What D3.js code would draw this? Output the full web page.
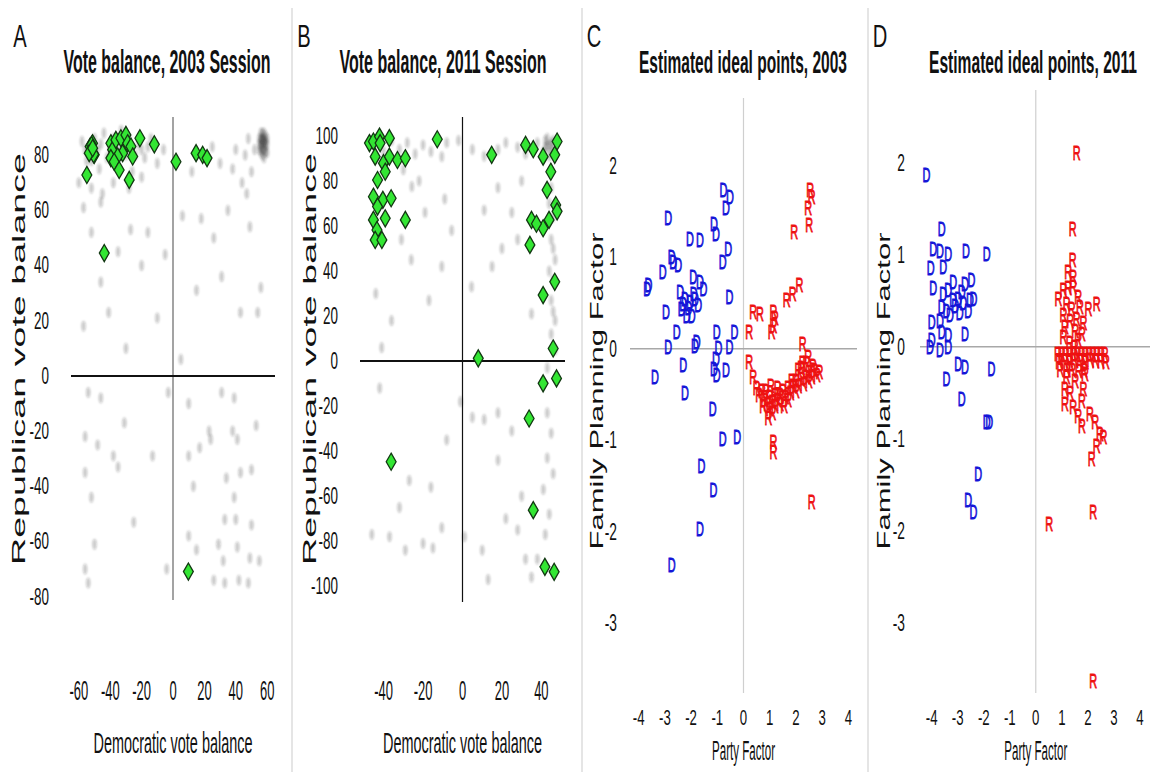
<!DOCTYPE html>
<html>
<head>
<meta charset="utf-8">
<script src="https://cdn.jsdelivr.net/npm/d3@7"></script>
<style>
  body { margin: 0; background: #fff; }
  svg { display: block; font-family: "Liberation Sans", Arial, sans-serif; }
</style>
</head>
<body>
<div class="vis-figure"></div>
<script>
// ---- data ----
// A: vote balance 2003, [democratic, republican]
const billsA = [[-54.9,72.8],[-52.8,83.1],[-51.3,84.3],[-50.2,80.1],[-51.9,83.7],[-50.6,80.3],[-53.4,80.7],[-51.2,82.5],
  [-39.6,84.3],[-38.5,81.9],[-39.6,78.9],[-36.4,85.5],[-33.2,86.1],[-30.0,87.3],[-28.9,84.3],[-26.8,83.1],[-32.1,80.7],
  [-35.3,79.5],[-37.5,77.6],[-34.3,74.6],[-25.7,79.5],[-27.9,71.0],[-21.1,86.1],[-11.9,83.9],
  [1.9,77.6],[14.7,80.7],[18.9,80.1],[21.7,78.9],[-43.8,44.5],[9.8,-70.9]];
const votesA = [[-58,85],[-55,78],[-50,86],[-47,75],[-44,88],[-40,82],[-36,76],[-33,89],[-30,80],[-26,74],[-22,84],[-18,79],
  [-14,86],[-10,77],[-6,82],[-60,70],[-52,68],[-45,66],[-38,70],[-28,68],[-20,72],[-48,82],[-42,79],[-24,80],[-16,83],
  [-56,82],[-52,78],[-46,84],[-38,86],[-34,82],[-28,86],[-20,82],
  [38,75],[40,82],[44,70],[46,80],[48,86],[50,74],[52,82],[30,77],[25,83],[12,74],
  [55,82],[56,85],[57,80],[58,86],[59,83],[56,88],[58,79],[60,84],[57,84],[59,87],[55,86],[58,82],[57,88],[60,81],[56,81],[58,84],
  [56,83],[57,86],[58,88],[59,81],[57,82],[58,85],[56,86],[59,85],[55,84],[60,86],
  [-57,18],[-46,34],[-41,23],[-52,52],[-57,61],[-46,63],[-27,53],[-16,52],[-10,21],[5,6],[6,58],[18,57],[26,50],[31,36],
  [43,23],[54,23],[56,32],[49,54],[15,31],[-35,45],[-20,40],[-30,10],[35,60],[47,66],[-5,44],
  [-54,-6],[-46,-8],[-3,-6],[31,-6],[39,-8],[10,-10],[-31,-17],[-56,-22],[-48,-25],[-13,-29],[-38,-29],[-35,-33],[-56,-35],
  [23,-20],[24,-23],[38,-20],[41,-23],[53,-18],[17,-26],[10,-29],[34,-37],[43,-35],[50,-34],[13,-40],[39,-44],[-52,-44],
  [-25,-53],[33,-52],[40,-52],[50,-54],[-50,-61],[10,-58],[29,-61],[32,-67],[41,-62],[49,-66],[55,-67],[-56,-70],[-54,-75],
  [-4,-70],[26,-74],[33,-75],[42,-74],[48,-75],[15,-63]];
const ticksAx = [-60, -40, -20, 0, 20, 40, 60];
const ticksAy = [-80, -60, -40, -20, 0, 20, 40, 60, 80];

// B: vote balance 2011
const billsB = [[-47.2,96.8],[-45.2,97.5],[-42.1,99.7],[-41.8,96.8],[-37.1,99.0],[-44.3,90.8],[-40.1,87.9],[-37.1,90.8],
  [-33.0,89.3],[-29.0,90.1],[-39.2,84.1],[-43.1,80.4],[-45.2,73.0],[-40.4,71.6],[-36.2,72.3],[-43.1,68.6],[-45.2,62.7],
  [-39.2,63.4],[-29.0,62.7],[-43.4,58.2],[-44.3,53.8],[-40.9,53.8],[-12.8,98.5],
  [14.8,91.6],[32.0,96.0],[35.9,94.1],[40.9,90.8],[46.8,91.6],[48.0,97.5],[44.8,84.1],[42.9,76.0],[47.3,69.3],[48.0,66.5],
  [35.0,62.7],[40.9,59.0],[43.9,62.7],[34.2,51.6],[37.5,61.0],
  [40.9,29.3],[46.8,35.2],[46.0,5.6],[8.0,1.2],[40.9,-9.9],[47.7,-7.7],[33.8,-25.5],[-36.2,-44.7],[35.9,-66.2],
  [41.8,-91.4],[46.5,-93.6]];
const votesB = [[-44,97],[-40,93],[-36,98],[-32,94],[-28,97],[-24,92],[-20,96],[-16,93],[-10.5,90.8],[-8,97],[-2,98],[5,94],
  [11,91],[18,94],[22,97],[28,95],[32,92],[38,97],[42,95],[45,97],[44,91],[46,94],[43,99],[47,92],[41,93],[44,96],[46,98],
  [43,95],[45,93],[42,98],[-30,85],[-22,80],
  [45,77],[46,64],[45,54],[47,45],[46,36],[45,27],[47,18],[45,12],[43,-3],[44,70],[46,50],[44,40],[46,22],[47,5],
  [-25.7,77.5],[-19,66],[-31,54],[-9,72],[-5.5,58],[11,67],[18,77],[25,66],[28,54],[4.6,33],[15,42],[35,21],[-44,30],
  [-36,18],[-41,6],[-26,45],[-17,27],[-10.5,42],[30,80],[20,50],
  [-42,-12],[-1,-18],[11,-26],[18,-23],[25,-31],[5,-25],[43,-23],[45,-32],[43,-43],[46,-50],[41,-57],[44,-68],[42,-77],
  [32,-88],[13,-97],[18,-44],[-8,-35],[-16,-56],[-27,-53],[-32,-65],[-10.5,-74],[-46,-77],[-37,-78],[-29,-84],[-20,-81],
  [-15,-83],[1,-78],[10,-84],[28,-75],[35,-96],[38,-88],[30,-60],[22,-70]];
const ticksBx = [-40, -20, 0, 20, 40];
const ticksBy = [-100, -80, -60, -40, -20, 0, 20, 40, 60, 80, 100];

// C: ideal points 2003, [party factor, family planning factor]
const demsC = [[-0.77,1.74],[-0.52,1.66],[-0.67,1.54],[-2.87,1.43],[-1.13,1.37],[-1.05,1.26],[-2.04,1.21],[-1.66,1.19],
  [-0.58,1.10],[-0.79,0.95],[-2.74,1.01],[-2.68,0.95],[-2.49,0.92],[-3.08,0.84],[-3.63,0.70],[-3.67,0.66],[-1.92,0.79],
  [-1.66,0.74],[-1.53,0.66],[-2.42,0.63],[-2.23,0.55],[-2.04,0.52],[-1.85,0.55],[-1.73,0.48],[-2.36,0.44],[-2.17,0.37],
  [-1.98,0.37],[-0.54,0.57],[-2.96,0.41],[-2.55,0.19],[-1.79,0.08],[-1.85,0.04],[-1.02,0.19],[-0.35,0.19],[-0.96,0.01],
  [-0.54,0.03],[-2.87,0.03],[-3.38,-0.30],[-2.30,-0.17],[-2.23,-0.48],[-1.13,-0.21],[-1.02,-0.28],[-0.67,-0.23],
  [-1.18,-0.65],[-0.79,-0.98],[-0.24,-0.96],[-1.60,-1.27],[-1.15,-1.54],[-1.66,-1.96],[-2.74,-2.36],[-2.10,0.45],
  [-1.90,0.60],[-2.30,0.50],[-1.05,-0.10]];
const repsC = [[2.54,1.74],[2.60,1.66],[2.47,1.54],[2.51,1.36],[1.93,1.28],[2.13,0.70],[1.88,0.61],[1.65,0.54],[0.37,0.41],
  [0.63,0.39],[1.14,0.41],[1.20,0.34],[1.14,0.26],[1.08,0.19],[0.22,0.19],[0.22,-0.14],[2.26,0.06],[0.37,-0.30],[2.47,-0.08],
  [1.14,-1.01],[1.14,-1.12],[2.60,-1.67],
  [0.5,-0.42],[0.6,-0.5],[0.7,-0.45],[0.8,-0.55],[0.9,-0.6],[1.0,-0.65],[1.0,-0.52],[1.1,-0.58],[1.2,-0.62],[1.2,-0.5],
  [1.3,-0.55],[1.4,-0.5],[1.4,-0.6],[1.5,-0.45],[1.6,-0.52],[1.7,-0.42],[1.8,-0.48],[1.9,-0.4],[2.0,-0.45],[2.0,-0.35],
  [2.1,-0.4],[2.2,-0.32],[2.3,-0.38],[2.4,-0.3],[2.5,-0.35],[2.5,-0.25],[2.6,-0.3],[2.7,-0.22],[2.8,-0.28],[2.9,-0.25],
  [1.1,-0.7],[0.95,-0.75],[1.05,-0.4],[1.3,-0.42],[1.7,-0.55],[2.2,-0.2],[2.4,-0.15],[2.26,-0.15],[2.1,-0.22],
  [0.75,-0.62],[0.85,-0.45],[1.55,-0.62],[1.85,-0.35],[2.65,-0.18]];

// D: ideal points 2011
const demsD = [[-4.20,1.87],[-3.62,1.29],[-3.94,1.07],[-3.68,1.05],[-3.37,1.02],[-2.68,1.05],[-1.89,1.02],[-4.04,0.86],
  [-3.56,0.87],[-3.94,0.64],[-3.17,0.71],[-2.72,0.69],[-2.47,0.73],[-3.56,0.58],[-3.37,0.62],[-3.17,0.51],[-2.98,0.53],
  [-2.79,0.48],[-2.53,0.51],[-2.40,0.53],[-3.62,0.44],[-3.43,0.40],[-2.92,0.37],[-2.60,0.40],[-4.00,0.28],[-3.68,0.29],
  [-3.62,0.17],[-3.37,0.13],[-2.72,0.15],[-4.00,0.08],[-3.68,-0.03],[-3.37,0.00],[-2.98,-0.18],[-2.72,-0.21],[-1.70,-0.23],
  [-3.43,-0.34],[-2.85,-0.56],[-1.89,-0.81],[-1.79,-0.81],[-2.21,-1.37],[-2.60,-1.66],[-2.40,-1.79],[-4.07,0.0],
  [-3.3,0.35],[-3.1,0.45],[-2.85,0.6]];
const repsD = [[1.42,1.29],[1.42,0.95],[1.25,0.82],[1.44,0.76],[1.06,0.62],[0.87,0.53],[1.25,0.64],[1.44,0.66],[1.63,0.55],
  [1.19,0.47],[1.38,0.42],[1.70,0.44],[2.02,0.42],[2.34,0.47],[1.06,0.35],[1.32,0.29],[1.57,0.31],[1.83,0.26],[1.12,0.22],
  [1.51,0.18],[1.77,0.15],[1.63,0.08],[1.06,0.11],
  [0.85,-0.07],[1.0,-0.07],[1.15,-0.07],[1.3,-0.07],[1.45,-0.07],[1.6,-0.07],[1.75,-0.07],[1.9,-0.07],[2.05,-0.07],
  [2.2,-0.07],[2.35,-0.07],[2.5,-0.07],[2.65,-0.07],[0.9,-0.16],[1.1,-0.15],[1.3,-0.16],[1.5,-0.14],[1.7,-0.15],
  [1.9,-0.16],[2.1,-0.14],[2.3,-0.15],[2.5,-0.15],[2.7,-0.16],[0.95,-0.25],[1.2,-0.25],[1.4,-0.24],[1.65,-0.26],[1.85,-0.25],
  [1.12,-0.45],[1.32,-0.50],[1.12,-0.61],[1.44,-0.65],[1.77,-0.58],[1.83,-0.45],[1.63,-0.74],[1.77,-0.85],[2.08,-0.72],
  [2.28,-0.81],[2.47,-0.94],[2.60,-0.97],[2.34,-1.07],[2.15,-1.21],[1.19,-0.32],[1.51,-0.36],[1.89,-0.29],[2.21,-1.79],
  [0.52,-1.92],[2.21,-3.62],[1.57,2.11],[1.3,0.05],[1.5,0.0]];
const ticksIdealX = [-4, -3, -2, -1, 0, 1, 2, 3, 4];
const ticksIdealY = [-3, -2, -1, 0, 1, 2];

// ---- drawing ----
const W = 1156, H = 772;
const svg = d3.select('.vis-figure').append('svg')
    .attr('width', W)
    .attr('height', H);

svg.append('defs').append('filter')
    .attr('id', 'smudge')
    .attr('x', '-50%').attr('y', '-50%').attr('width', '200%').attr('height', '200%')
    .append('feGaussianBlur')
    .attr('stdDeviation', 1.3);

// the source figure is squashed sideways, so text gets a horizontal scale
function squeezed(g, str, x, y, size, sx, anchor, weight) {
    return g.append('text')
        .attr('transform', 'translate(' + x + ',' + y + ') scale(' + sx + ',1)')
        .attr('text-anchor', anchor)
        .attr('font-size', size)
        .attr('font-weight', weight || 'normal')
        .attr('fill', '#111')
        .text(str);
}

function fitted(g, str, x, y, size, len, weight, rotate) {
    return g.append('text')
        .attr('transform', 'translate(' + x + ',' + y + ')' + (rotate ? ' rotate(-90)' : ''))
        .attr('text-anchor', 'middle')
        .attr('font-size', size)
        .attr('font-weight', weight || 'normal')
        .attr('textLength', len)
        .attr('lengthAdjust', 'spacingAndGlyphs')
        .attr('fill', '#111')
        .text(str);
}

// panel separators
[292, 582, 868].forEach(function (sx) {
    svg.append('line')
        .attr('x1', sx).attr('x2', sx)
        .attr('y1', 8).attr('y2', H)
        .attr('stroke', '#d4d4d4')
        .attr('stroke-width', 1.2);
});

const drawVote = (cfg) => {
    let g = svg.append('g');
    const x = d3.scaleLinear().domain(cfg.xDomain).range(cfg.xRange);
    const y = d3.scaleLinear().domain(cfg.yDomain).range(cfg.yRange);

    // density of all votes, drawn as soft grey smudges
    g.append('g')
        .attr('filter', 'url(#smudge)')
        .selectAll('ellipse')
        .data(cfg.votes)
        .join('ellipse')
        .attr('cx', d => x(d[0]))
        .attr('cy', d => y(d[1]))
        .attr('rx', 2.2)
        .attr('ry', 5.5)
        .attr('fill', '#222')
        .attr('opacity', 0.24);

    g.append('line')
        .attr('x1', x(0)).attr('x2', x(0))
        .attr('y1', cfg.yRange[1]).attr('y2', cfg.yRange[0])
        .attr('stroke', cfg.vColor)
        .attr('stroke-width', 1.2);
    g.append('line')
        .attr('x1', cfg.xRange[0]).attr('x2', cfg.xRange[1])
        .attr('y1', y(0)).attr('y2', y(0))
        .attr('stroke', '#111')
        .attr('stroke-width', 2);

    g.selectAll('.bill')
        .data(cfg.bills)
        .join('path')
        .attr('class', 'bill')
        .attr('transform', d => 'translate(' + x(d[0]) + ',' + y(d[1]) + ')')
        .attr('d', d3.symbol().type(d3.symbolDiamond).size(84))
        .attr('fill', '#33e633')
        .attr('stroke', '#123812')
        .attr('stroke-width', 1.3);

    cfg.xTicks.forEach(t => squeezed(g, t, x(t), 700, 27, 0.48, 'middle'));
    cfg.yTicks.forEach(t => squeezed(g, t, cfg.yTickX, y(t) + 8, 24, 0.56, 'end'));

    squeezed(g, cfg.letter, cfg.letterX, 47, 31, 0.65, 'middle');
    fitted(g, cfg.title, cfg.titleX, 73, 34, 207, 'bold');
    fitted(g, 'Democratic vote balance', x(0), 753, 30, 159);
    fitted(g, 'Republican vote balance', cfg.yLabelX, 359, 19, 412, 'normal', true);
};

const drawIdeal = (cfg) => {
    let g = svg.append('g');
    const x = d3.scaleLinear().domain(cfg.xDomain).range(cfg.xRange);
    const y = d3.scaleLinear().domain(cfg.yDomain).range(cfg.yRange);

    g.append('line')
        .attr('x1', x(0)).attr('x2', x(0))
        .attr('y1', cfg.yRange[1]).attr('y2', cfg.yRange[0])
        .attr('stroke', '#cfcfcf')
        .attr('stroke-width', 1.2);
    g.append('line')
        .attr('x1', cfg.xRange[0]).attr('x2', cfg.xRange[1])
        .attr('y1', y(0)).attr('y2', y(0))
        .attr('stroke', '#a8a8a8')
        .attr('stroke-width', 1.5);

    const party = [
        { pts: cfg.dems, ch: 'D', color: '#1414d8' },
        { pts: cfg.reps, ch: 'R', color: '#ee1111' }
    ];
    party.forEach(p => {
        g.append('g').selectAll('text')
            .data(p.pts)
            .join('text')
            .attr('transform', d => 'translate(' + x(d[0]) + ',' + y(d[1]) + ') scale(0.52,1)')
            .attr('text-anchor', 'middle')
            .attr('dy', '0.36em')
            .attr('font-size', 21)
            .attr('fill', p.color)
            .attr('stroke', p.color)
            .attr('stroke-width', 0.9)
            .text(p.ch);
    });

    ticksIdealX.forEach(t => squeezed(g, t, x(t), 725, 22, 0.6, 'middle'));
    ticksIdealY.forEach(t => squeezed(g, t, cfg.yTickX, y(t) + 8, 23, 0.6, 'end'));

    squeezed(g, cfg.letter, cfg.letterX, 47, 31, 0.65, 'middle');
    fitted(g, cfg.title, cfg.titleX, 73, 31, 208, 'bold');
    fitted(g, 'Party Factor', x(0), 760, 27, 63);
    fitted(g, 'Family Planning Factor', cfg.yLabelX, 391, 18, 317, 'normal', true);
};

drawVote({
    bills: billsA, votes: votesA, xTicks: ticksAx, yTicks: ticksAy,
    xDomain: [-65, 65], xRange: [71, 275], yDomain: [-81.2, 93.8], yRange: [600, 117],
    vColor: '#666', yTickX: 49, letter: 'A', letterX: 20,
    title: 'Vote balance, 2003 Session', titleX: 167, yLabelX: 25
});
drawVote({
    bills: billsB, votes: votesB, xTicks: ticksBx, yTicks: ticksBy,
    xDomain: [-52, 52], xRange: [360, 565], yDomain: [-107, 108.4], yRange: [602, 117],
    vColor: '#111', yTickX: 338, letter: 'B', letterX: 304,
    title: 'Vote balance, 2011 Session', titleX: 443, yLabelX: 316
});
drawIdeal({
    dems: demsC, reps: repsC,
    xDomain: [-4.33, 4.33], xRange: [630, 857], yDomain: [-3.76, 2.74], yRange: [693, 98],
    yTickX: 617, letter: 'C', letterX: 594,
    title: 'Estimated ideal points, 2003', titleX: 743, yLabelX: 603
});
drawIdeal({
    dems: demsD, reps: repsD,
    xDomain: [-4.45, 4.39], xRange: [920, 1150], yDomain: [-3.76, 2.79], yRange: [693, 90],
    yTickX: 905, letter: 'D', letterX: 880,
    title: 'Estimated ideal points, 2011', titleX: 1033, yLabelX: 890
});
</script>
</body>
</html>
